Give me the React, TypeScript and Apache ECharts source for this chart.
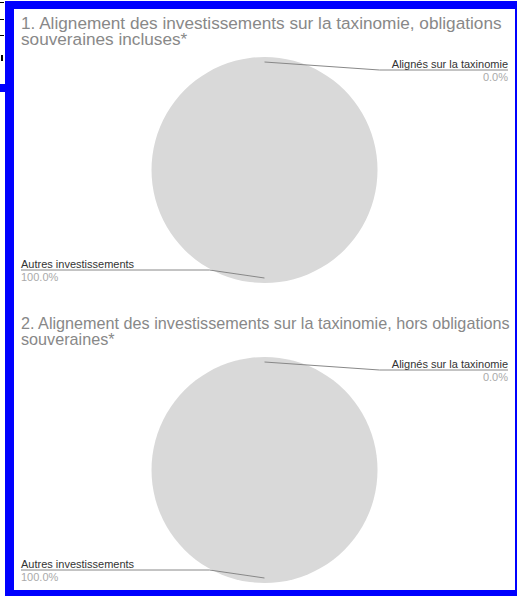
import React, { useEffect, useRef } from "react";
import * as echarts from "echarts";

const title1Lines = [
  "1. Alignement des investissements sur la taxinomie, obligations",
  "souveraines incluses*",
];
const title2Lines = [
  "2. Alignement des investissements sur la taxinomie, hors obligations",
  "souveraines*",
];
const categories = ["Alignés sur la taxinomie", "Autres investissements"];
const chart1Values = [0.0, 100.0];
const chart2Values = [0.0, 100.0];
const sliceColors = ["#7fb8a0", "#d9d9d9"];

const FONT = "'Liberation Sans', Arial, sans-serif";
const CHART_W = 501;
const CHART_H = 580;
const pieBoxes = [
  { top: 48, height: 226 },
  { top: 348, height: 226 },
];

export default function App() {
  const ref = useRef<HTMLDivElement>(null);

  useEffect(() => {
    if (!ref.current) return;
    const chart = echarts.init(ref.current, undefined, { renderer: "svg" });

    const baseSeries = (values: number[], boxIndex: number) => {
      const box = pieBoxes[boxIndex];
      return {
        type: "pie",
        left: 0,
        width: CHART_W,
        top: box.top,
        height: box.height,
        radius: "100%",
        center: ["50%", "50%"],
        startAngle: 89.99,
        clockwise: true,
        silent: true,
        emphasis: { disabled: true },
      };
    };

    // visible slices
    const pieSeries = (values: number[], boxIndex: number) => ({
      ...baseSeries(values, boxIndex),
      z: 2,
      data: categories.map((name, i) => ({
        name,
        value: values[i],
        itemStyle: { color: sliceColors[i] },
      })),
      label: { show: false },
      labelLine: { show: false },
    });

    // transparent twin that carries the labels and their lines above the slices
    const labelSeries = (values: number[], boxIndex: number) => {
      const box = pieBoxes[boxIndex];
      return {
        ...baseSeries(values, boxIndex),
        z: 3,
        data: categories.map((name, i) => ({
          name,
          value: values[i],
          itemStyle: { color: "rgba(0,0,0,0)" },
        })),
        label: {
          show: true,
          alignTo: "edge",
          edgeDistance: 7,
          minMargin: 4,
          lineHeight: 13,
          fontFamily: FONT,
          formatter: (p: any) => `{name|${p.name}}\n{pct|${Number(p.value).toFixed(1)}%}`,
          rich: {
            name: { fontSize: 11, color: "#333333", fontFamily: FONT, lineHeight: 13 },
            pct: { fontSize: 11, color: "#aaaaaa", fontFamily: FONT, lineHeight: 13 },
          },
        },
        labelLine: {
          show: true,
          length: 10,
          length2: 0,
          maxSurfaceAngle: 80,
          lineStyle: { color: "#888888", width: 1, opacity: 1 },
        },
        labelLayout: (params: any) => {
          const lr = params.labelRect;
          const pts = params.labelLinePoints;
          if (!pts) return {};
          const h = lr.height;
          let yc = lr.y + h / 2;
          yc = Math.max(box.top + h / 2, Math.min(box.top + box.height - h / 2, yc));
          const isLeft = lr.x < CHART_W / 2;
          const cx = CHART_W / 2;
          const cy = box.top + box.height / 2;
          const p0 = pts[0];
          const dx = cx - p0[0];
          const dy = cy - p0[1];
          const d = Math.hypot(dx, dy) || 1;
          const inset = 5;
          const start = [p0[0] + (dx / d) * inset, p0[1] + (dy / d) * inset];
          const midX = isLeft ? p0[0] - 55 : p0[0] + 115;
          const endX = isLeft ? lr.x : lr.x + lr.width;
          return {
            y: yc,
            labelLinePoints: [start, [midX, yc], [endX, yc]],
          };
        },
      };
    };

    const titleLine = (text: string, top: number, fontSize: number) => ({
      text,
      left: 7,
      top,
      padding: 0,
      textStyle: {
        fontFamily: FONT,
        fontSize,
        fontWeight: "normal",
        color: "#888888",
        lineHeight: 15,
      },
    });

    chart.setOption({
      animation: false,
      title: [
        titleLine(title1Lines[0], 6, 17.2),
        titleLine(title1Lines[1], 22, 17.2),
        titleLine(title2Lines[0], 306, 16.2),
        titleLine(title2Lines[1], 322, 16.2),
      ],
      series: [
        pieSeries(chart1Values, 0),
        pieSeries(chart2Values, 1),
        labelSeries(chart1Values, 0),
        labelSeries(chart2Values, 1),
      ],
    });

    return () => chart.dispose();
  }, []);

  const dash = (top: number) => (
    <div style={{ position: "absolute", left: 0, top, width: 4, height: 1, background: "#000" }} />
  );

  return (
    <div
      style={{
        position: "fixed",
        left: 0,
        top: 0,
        width: 517,
        height: 596,
        overflow: "hidden",
        background: "#ffffff",
      }}
    >
      {dash(2)}
      {dash(19)}
      {dash(35)}
      <div style={{ position: "absolute", left: 1, top: 55, width: 2, height: 6, background: "#000" }} />
      <div style={{ position: "absolute", left: 0, top: 84, width: 6, height: 8, background: "#0000ff" }} />
      <div
        style={{
          position: "absolute",
          left: 5,
          top: 1,
          width: 518,
          height: 596,
          boxSizing: "border-box",
          borderStyle: "solid",
          borderColor: "#0000ff",
          borderTopWidth: 8,
          borderLeftWidth: 9,
          borderRightWidth: 8,
          borderBottomWidth: 7,
          background: "#ffffff",
        }}
      >
        <div ref={ref} style={{ width: CHART_W, height: CHART_H }} />
      </div>
    </div>
  );
}
